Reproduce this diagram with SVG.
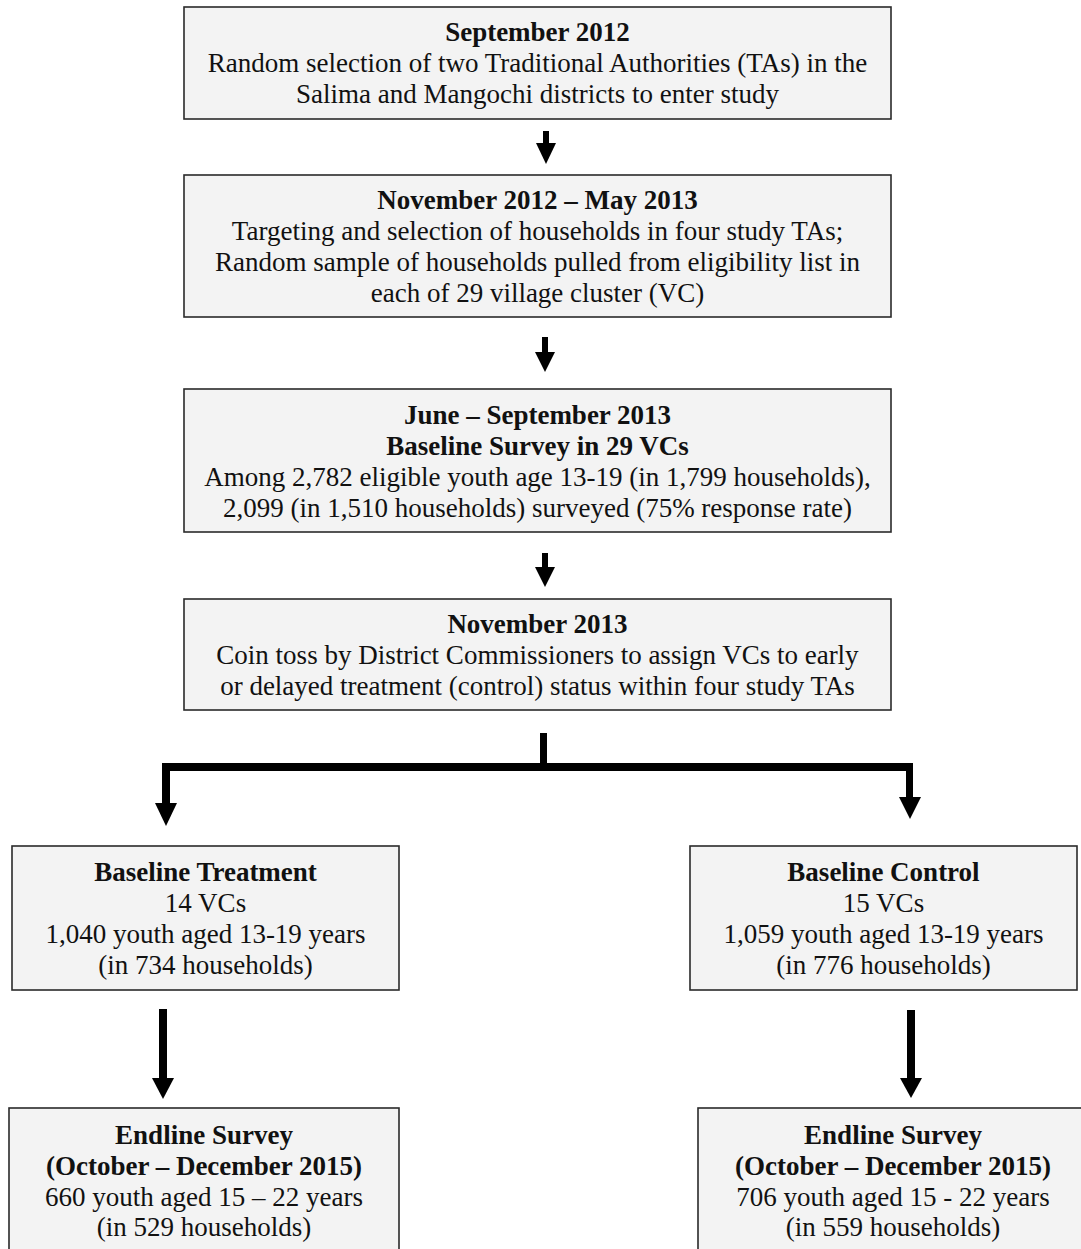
<svg xmlns="http://www.w3.org/2000/svg" width="1081" height="1249" viewBox="0 0 1081 1249">
<style>
.box{fill:#f3f3f3;stroke:#2a2a2a;stroke-width:1.6}
text{font-family:"Liberation Serif","Times New Roman",serif;font-size:27px;fill:#111;text-anchor:middle}
.b{font-weight:bold}
.arr{fill:#000}
</style>
<rect width="1081" height="1249" fill="#fff"/>
<g id="n1">
<rect class="box" x="184" y="7" width="707" height="112"/>
<text x="537.5" y="41" class="b">September 2012</text>
<text x="537.5" y="72">Random selection of two Traditional Authorities (TAs) in the</text>
<text x="537.5" y="103">Salima and Mangochi districts to enter study</text>
</g>
<g id="n2">
<rect class="box" x="184" y="175" width="707" height="142"/>
<text x="537.5" y="209" class="b">November 2012 – May 2013</text>
<text x="537.5" y="240">Targeting and selection of households in four study TAs;</text>
<text x="537.5" y="271">Random sample of households pulled from eligibility list in</text>
<text x="537.5" y="302">each of 29 village cluster (VC)</text>
</g>
<g id="n3">
<rect class="box" x="184" y="389" width="707" height="143"/>
<text x="537.5" y="424" class="b">June – September 2013</text>
<text x="537.5" y="455" class="b">Baseline Survey in 29 VCs</text>
<text x="537.5" y="486">Among 2,782 eligible youth age 13-19 (in 1,799 households),</text>
<text x="537.5" y="517">2,099 (in 1,510 households) surveyed (75% response rate)</text>
</g>
<g id="n4">
<rect class="box" x="184" y="599" width="707" height="111"/>
<text x="537.5" y="633" class="b">November 2013</text>
<text x="537.5" y="664">Coin toss by District Commissioners to assign VCs to early</text>
<text x="537.5" y="695">or delayed treatment (control) status within four study TAs</text>
</g>
<g id="n5">
<rect class="box" x="12" y="846" width="387" height="144"/>
<text x="205.5" y="881" class="b">Baseline Treatment</text>
<text x="205.5" y="912">14 VCs</text>
<text x="205.5" y="943">1,040 youth aged 13-19 years</text>
<text x="205.5" y="974">(in 734 households)</text>
</g>
<g id="n6">
<rect class="box" x="690" y="846" width="387" height="144"/>
<text x="883.5" y="881" class="b">Baseline Control</text>
<text x="883.5" y="912">15 VCs</text>
<text x="883.5" y="943">1,059 youth aged 13-19 years</text>
<text x="883.5" y="974">(in 776 households)</text>
</g>
<g id="n7">
<rect class="box" x="9" y="1108" width="390" height="150"/>
<text x="204" y="1144" class="b">Endline Survey</text>
<text x="204" y="1175" class="b">(October – December 2015)</text>
<text x="204" y="1206">660 youth aged 15 – 22 years</text>
<text x="204" y="1236">(in 529 households)</text>
</g>
<g id="n8">
<rect class="box" x="698" y="1108" width="390" height="150"/>
<text x="893" y="1144" class="b">Endline Survey</text>
<text x="893" y="1175" class="b">(October – December 2015)</text>
<text x="893" y="1206">706 youth aged 15 - 22 years</text>
<text x="893" y="1236">(in 559 households)</text>
</g>
<g id="connectors" class="arr">
<rect x="543" y="131" width="6" height="14"/>
<polygon points="536,143 556,143 546,164"/>
<rect x="542" y="337" width="6" height="17"/>
<polygon points="535,352 555,352 545,372"/>
<rect x="542" y="553" width="6" height="16"/>
<polygon points="535,567 555,567 545,587"/>
<rect x="540" y="733" width="7" height="34"/>
<rect x="162" y="763" width="751" height="8"/>
<rect x="162" y="763" width="8" height="42"/>
<polygon points="155,803 177,803 166,826"/>
<rect x="906" y="763" width="7" height="36"/>
<polygon points="899,797 921,797 910,819"/>
<rect x="159" y="1009" width="8" height="71"/>
<polygon points="152,1078 174,1078 163,1099"/>
<rect x="907" y="1010" width="8" height="70"/>
<polygon points="900,1078 922,1078 911,1098"/>
</g>
</svg>
